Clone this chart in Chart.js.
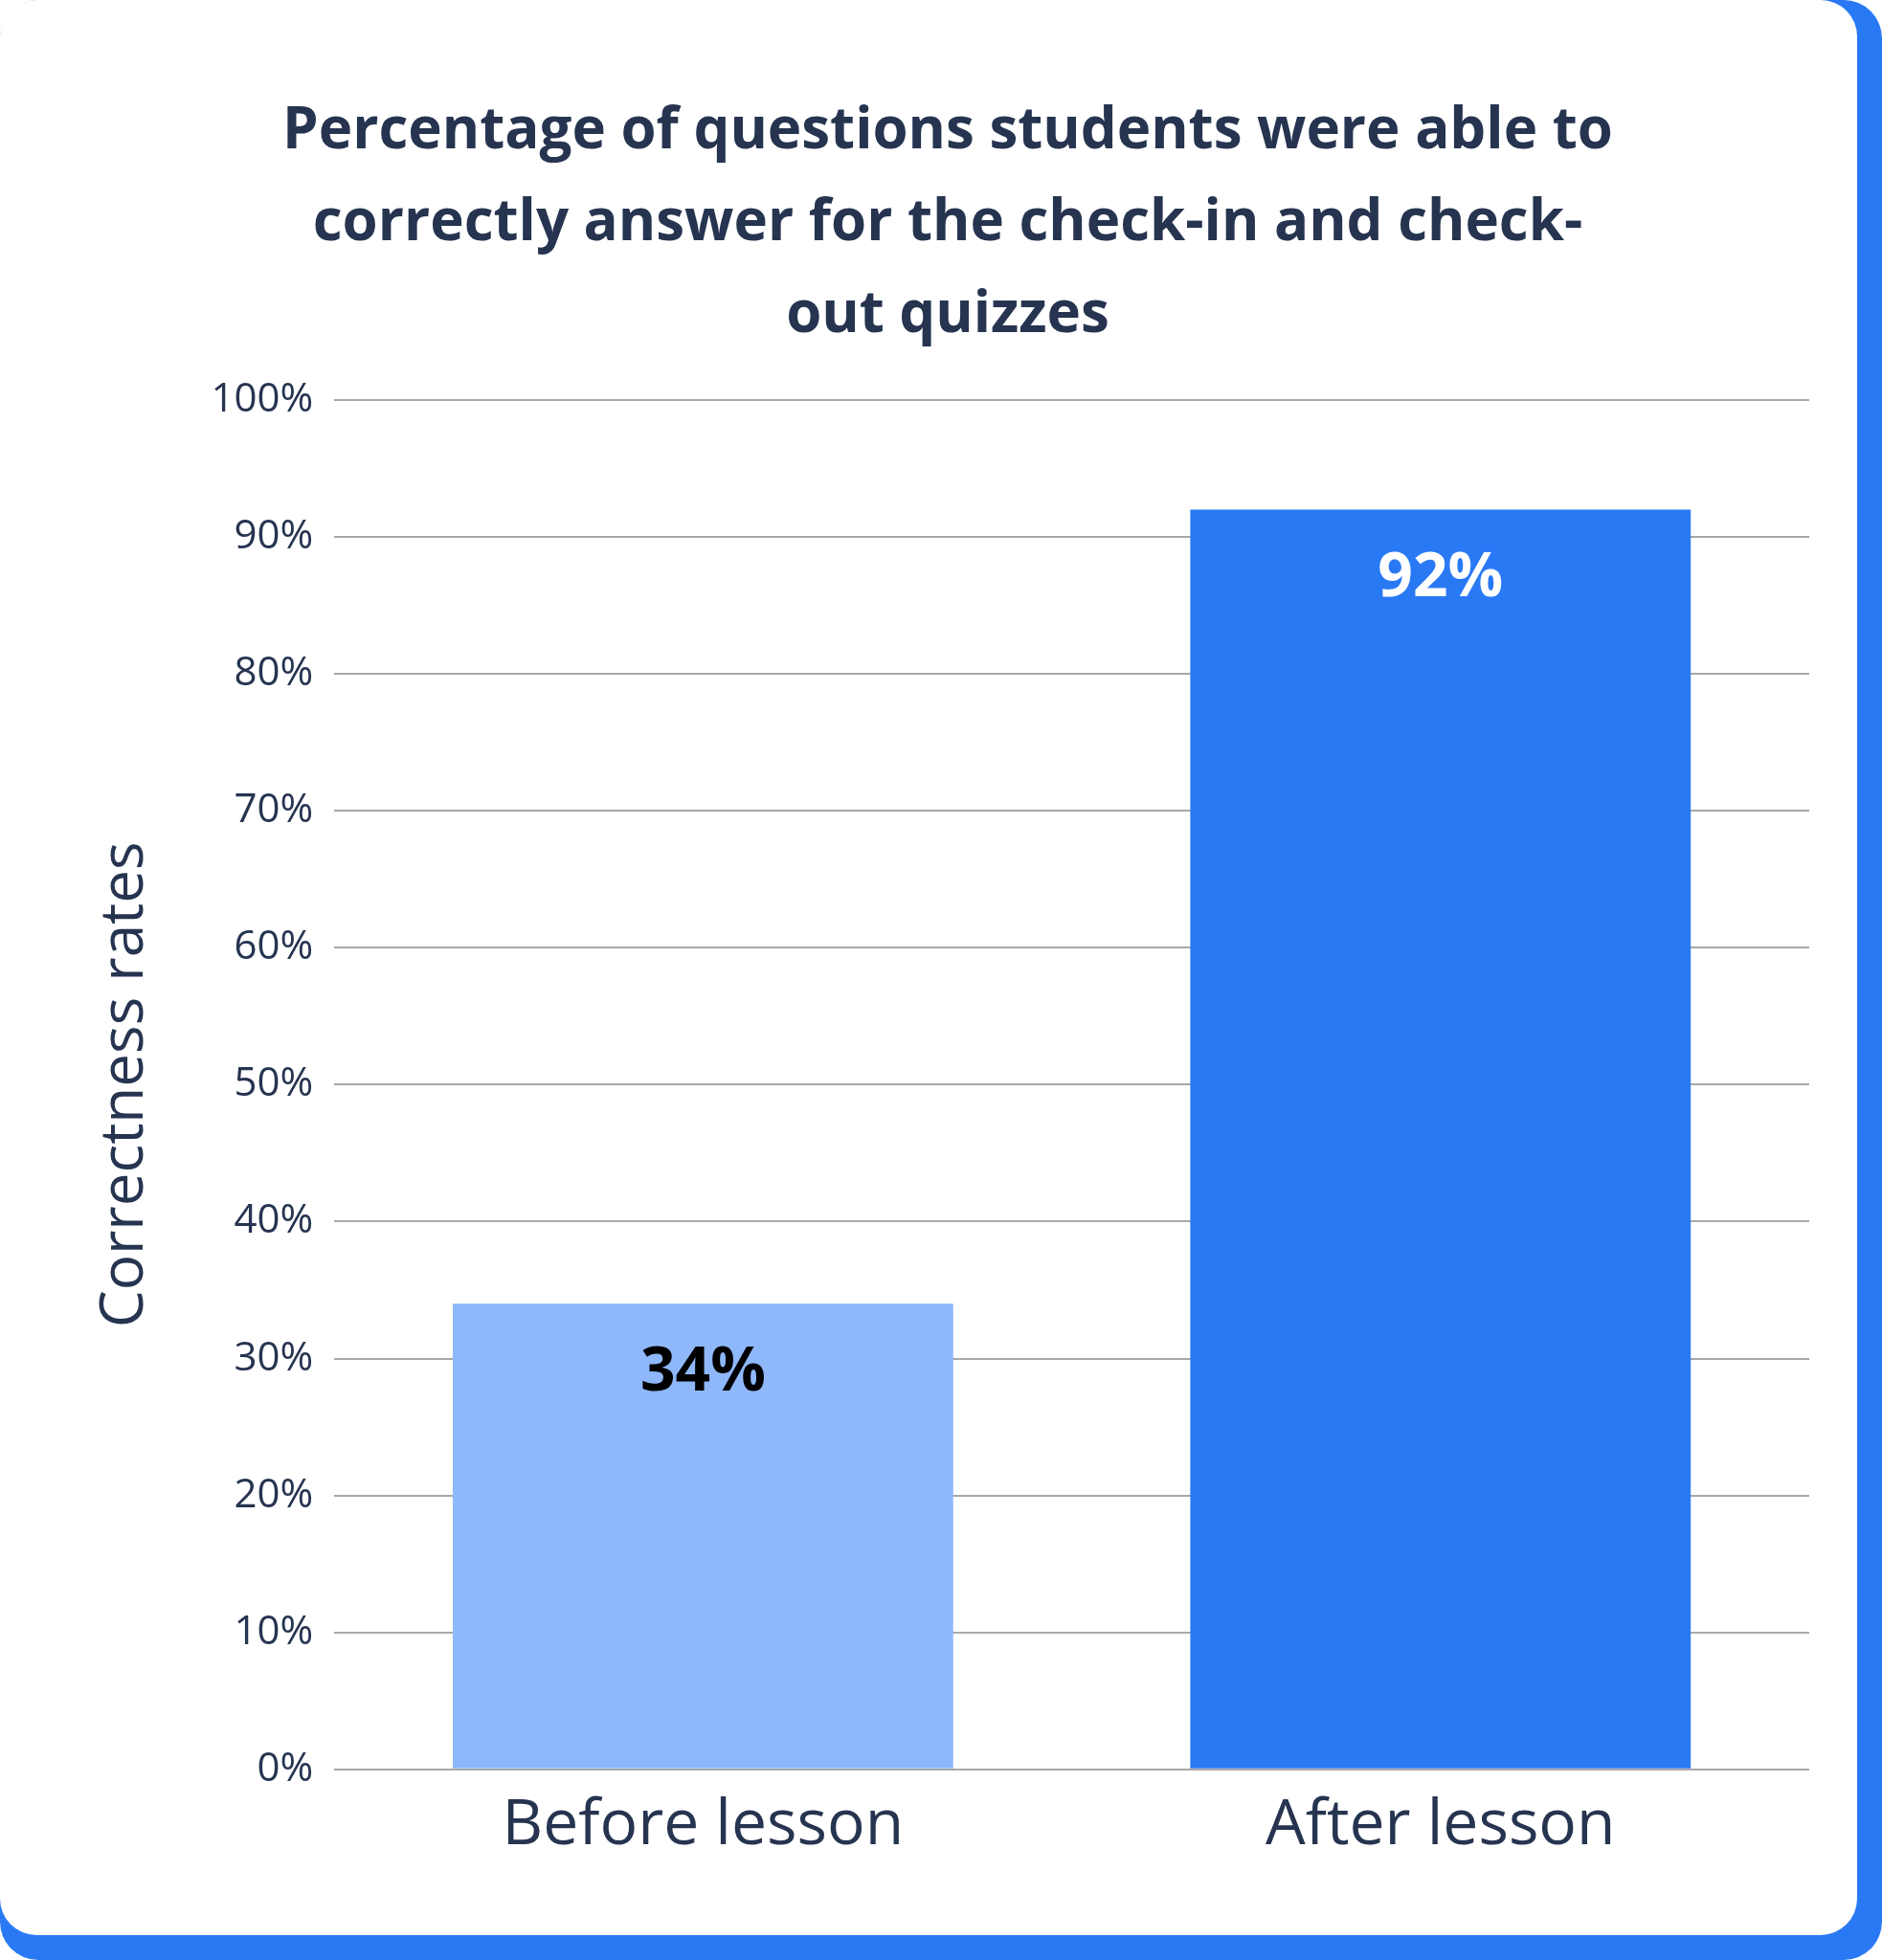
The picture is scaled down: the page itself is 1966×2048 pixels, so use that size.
<!DOCTYPE html>
<html><head><meta charset="utf-8">
<script src="https://cdn.jsdelivr.net/npm/chart.js@4"></script>
<style>
html,body{margin:0;padding:0;background:#fff;}
#wrap{position:relative;width:1966px;height:2048px;overflow:hidden;background:#fff;}
#blue{position:absolute;left:0;top:0;width:1966px;height:2048px;background:#2979f5;border-radius:40px;}
#card{position:absolute;left:0;top:0;width:1940px;height:2022px;background:#fff;border-radius:38px;}
#c{position:absolute;left:0;top:0;}
</style></head><body>
<div id="wrap"><div id="blue"></div><div id="card"></div><canvas id="c" width="1966" height="2048"></canvas></div>
<script>
const categories = ["Before lesson", "After lesson"];
const values = [34, 92];
const barColors = ["#8fb8fb", "#2979f5"];
const labelColors = ["#000000", "#ffffff"];
const titleLines = ["Percentage of questions students were able to", "correctly answer for the check-in and check-", "out quizzes"];
const FONT = "'Open Sans', Lato, sans-serif";
const TEXT = "#263450";

const valueLabels = {
  id: 'valueLabels',
  afterDatasetsDraw(chart) {
    const ctx = chart.ctx;
    const meta = chart.getDatasetMeta(0);
    ctx.save();
    ctx.font = "bold 64px " + FONT;
    ctx.textAlign = "center";
    ctx.textBaseline = "middle";
    meta.data.forEach((bar, i) => {
      ctx.fillStyle = labelColors[i];
      ctx.fillText(values[i] + "%", bar.x, bar.y + 72);
    });
    ctx.restore();
  }
};

Chart.defaults.font.family = FONT;
new Chart(document.getElementById('c'), {
  type: 'bar',
  data: { labels: categories, datasets: [{ data: values, backgroundColor: barColors, barPercentage: 0.78, categoryPercentage: 0.87 }] },
  options: {
    responsive: false, animation: false,
    layout: { padding: { left: 90, right: 76, top: 50, bottom: 80 } },
    plugins: {
      legend: { display: false }, tooltip: { enabled: false },
      title: { display: true, text: titleLines, color: TEXT, font: { size: 60, weight: 'bold', family: FONT, lineHeight: 1.6 }, padding: { top: 40, bottom: 40 } }
    },
    scales: {
      y: {
        min: 0, max: 100,
        ticks: { stepSize: 10, callback: v => v + '%', color: TEXT, font: { size: 42 }, padding: 22 },
        grid: { color: '#a8a8a8', lineWidth: 2, drawTicks: false },
        border: { display: false },
        title: { display: true, text: 'Correctness rates', color: TEXT, font: { size: 62 }, padding: { bottom: 30 } }
      },
      x: {
        ticks: { color: TEXT, font: { size: 66 }, padding: 20 },
        grid: { display: false, drawTicks: false },
        border: { display: false }
      }
    }
  },
  plugins: [valueLabels]
});
</script></body></html>
